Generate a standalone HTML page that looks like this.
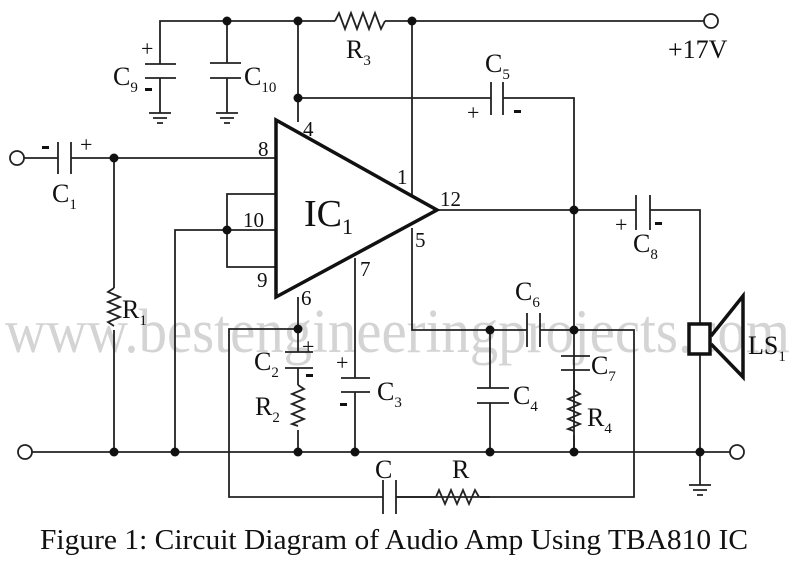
<!DOCTYPE html>
<html><head><meta charset="utf-8"><style>
html,body{margin:0;padding:0;background:#fff;}
svg{display:block;}
text{font-family:"Liberation Serif",serif;fill:#111;}
</style></head><body>
<svg width="800" height="562" viewBox="0 0 800 562" xmlns="http://www.w3.org/2000/svg">
<text x="5" y="352" font-size="62" style="fill:#d4d4d4" textLength="785" lengthAdjust="spacingAndGlyphs">www.bestengineeringprojects.com</text>
<g stroke="#222" stroke-width="1.8" fill="none">
<path d="M160,64 V21 H335 M385,21 H704"/>
<path d="M335,21 l4,-8 l6,16 l6,-16 l6,16 l6,-16 l6,16 l6,-16 l6,16 l4,-8"/>
<path d="M145,64 H176 M145,78 H176 M160,78 V113 M149,113 H171 M153,118 H167 M157,123 H163"/>
<path d="M210,63 H241 M210,78 H241 M227,21 V63 M227,78 V113 M216,113 H238 M220,118 H234 M224,123 H230"/>
<path d="M298,21 V122 M298,98 H491 M503,98 H574 V452"/>
<path d="M491,82 V115 M503,82 V115"/>
<path d="M412,21 V196"/>
<path d="M24,158 H58 M71,158 H276 M58,142 V174 M71,142 V174"/>
<path d="M114,158 V288 M114,330 V452"/>
<path d="M114,288 l-6,4 l12,5 l-12,5 l12,5 l-12,5 l12,5 l-12,5 l6,4"/>
<path d="M276,194 H227 V267 H276 M276,230 H175 V452"/>
<path d="M437,210 H636 M650,210 H700 V323 M700,354 V485 M636,195 V230 M650,195 V230"/>
<path d="M689,485 H711 M693,490 H707 M697,495 H703"/>
<path d="M412,228 V330 H527 M540,330 H634 V497 H396 M383,497 H229 V329 H298"/>
<path d="M527,313 V347 M540,313 V347 M383,480 V514 M396,480 V514"/>
<path d="M396,497 H436 M490,497 H480"/>
<path d="M436,497 l3,-7 l6,14 l6,-14 l6,14 l6,-14 l6,14 l6,-14 l4,7"/>
<path d="M490,330 V388 M490,403 V452 M477,388 H509 M477,403 H509"/>
<path d="M561,356 H590 M561,370 H590 M574,370 V390 M574,435 V452"/>
<path d="M574,390 l6,4 l-12,5 l12,5 l-12,5 l12,5 l-12,5 l12,5 l-12,5 l6,2"/>
<path d="M298,297 V352 M285,352 H313 M285,368 H313 M298,368 V385 M298,430 V452"/>
<path d="M298,385 l6,4 l-12,5 l12,5 l-12,5 l12,5 l-12,5 l12,5 l-12,5 l6,2"/>
<path d="M355,258 V378 M341,378 H370 M341,392 H370 M355,392 V452"/>
<path d="M32,452 H730"/>
</g>
<path d="M276,120 L437,210 L276,297 Z" fill="none" stroke="#111" stroke-width="3.5"/>
<rect x="689" y="324" width="21" height="30" fill="#fff" stroke="#111" stroke-width="3.5"/>
<path d="M711,336 L743,296 V377 L711,344" fill="none" stroke="#111" stroke-width="3.5"/>
<g fill="#fff" stroke="#222" stroke-width="1.8">
<circle cx="711" cy="21" r="7"/><circle cx="17" cy="158" r="7"/>
<circle cx="25" cy="452" r="7"/><circle cx="737" cy="452" r="7"/>
</g>
<g fill="#111">
<circle cx="227" cy="21" r="4.5"/><circle cx="298" cy="21" r="4.5"/><circle cx="412" cy="21" r="4.5"/>
<circle cx="298" cy="98" r="4.5"/><circle cx="114" cy="158" r="4.5"/><circle cx="227" cy="230" r="4.5"/>
<circle cx="574" cy="210" r="4.5"/><circle cx="298" cy="329" r="4.5"/><circle cx="490" cy="330" r="4.5"/><circle cx="574" cy="330" r="4.5"/>
<circle cx="114" cy="452" r="4.5"/><circle cx="175" cy="452" r="4.5"/><circle cx="298" cy="452" r="4.5"/><circle cx="355" cy="452" r="4.5"/>
<circle cx="490" cy="452" r="4.5"/><circle cx="574" cy="452" r="4.5"/><circle cx="700" cy="452" r="4.5"/>
</g>
<g font-size="26">
<text x="113" y="85">C<tspan font-size="15" dy="7">9</tspan></text>
<text x="244" y="85">C<tspan font-size="15" dy="7">10</tspan></text>
<text x="346" y="58">R<tspan font-size="15" dy="7">3</tspan></text>
<text x="485" y="72">C<tspan font-size="15" dy="7">5</tspan></text>
<text x="668" y="58">+17V</text>
<text x="52" y="202">C<tspan font-size="15" dy="7">1</tspan></text>
<text x="304" y="226" font-size="38">IC<tspan font-size="22" dy="8">1</tspan></text>
<text x="633" y="252">C<tspan font-size="15" dy="7">8</tspan></text>
<text x="122" y="318">R<tspan font-size="15" dy="7">1</tspan></text>
<text x="515" y="300">C<tspan font-size="15" dy="7">6</tspan></text>
<text x="254" y="370">C<tspan font-size="15" dy="7">2</tspan></text>
<text x="377" y="400">C<tspan font-size="15" dy="7">3</tspan></text>
<text x="255" y="415">R<tspan font-size="15" dy="7">2</tspan></text>
<text x="513" y="404">C<tspan font-size="15" dy="7">4</tspan></text>
<text x="591" y="374">C<tspan font-size="15" dy="7">7</tspan></text>
<text x="587" y="426">R<tspan font-size="15" dy="7">4</tspan></text>
<text x="748" y="354">LS<tspan font-size="15" dy="7">1</tspan></text>
<text x="375" y="478">C</text>
<text x="452" y="478">R</text>
</g>
<g font-size="21">
<text x="258" y="156">8</text><text x="303" y="136">4</text>
<text x="397" y="184">1</text><text x="440" y="206">12</text>
<text x="415" y="247">5</text><text x="360" y="276">7</text>
<text x="243" y="227">10</text><text x="257" y="287">9</text>
<text x="301" y="305">6</text>
</g>
<g font-size="22">
<text x="141" y="56">+</text><text x="80" y="152">+</text><text x="467" y="120">+</text>
<text x="615" y="232">+</text><text x="302" y="354">+</text><text x="336" y="370">+</text>
</g>
<g fill="#111">
<rect x="145" y="88" width="7" height="3"/><rect x="42" y="146" width="7" height="3"/>
<rect x="514" y="110" width="7" height="3"/><rect x="655" y="222" width="7" height="3"/>
<rect x="306" y="374" width="7" height="3"/><rect x="340" y="403" width="7" height="3"/>
</g>
<text x="40" y="549" font-size="28" textLength="708" lengthAdjust="spacingAndGlyphs">Figure 1: Circuit Diagram of Audio Amp Using TBA810 IC</text>
</svg>
</body></html>
